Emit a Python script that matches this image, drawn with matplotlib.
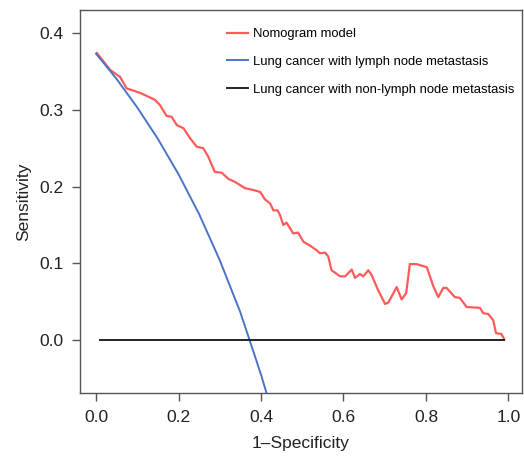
import matplotlib
matplotlib.use('Agg')
import matplotlib.pyplot as plt

# Curva del nomograma
x_nomograma = [0.002, 0.034, 0.058, 0.074, 0.107, 0.143, 0.155, 0.171, 0.183, 0.196,
               0.212, 0.228, 0.244, 0.260, 0.272, 0.288, 0.305, 0.321, 0.337, 0.361,
               0.385, 0.398, 0.410, 0.422, 0.430, 0.440, 0.446, 0.454, 0.462, 0.478,
               0.490, 0.503, 0.519, 0.535, 0.543, 0.555, 0.563, 0.571, 0.592, 0.604,
               0.620, 0.628, 0.640, 0.648, 0.660, 0.668, 0.684, 0.701, 0.709, 0.729,
               0.741, 0.752, 0.761, 0.777, 0.802, 0.818, 0.830, 0.842, 0.850, 0.870,
               0.882, 0.899, 0.931, 0.939, 0.951, 0.963, 0.970, 0.983, 0.990]
y_nomograma = [0.374, 0.352, 0.343, 0.328, 0.322, 0.313, 0.306, 0.292, 0.291, 0.280,
               0.276, 0.263, 0.252, 0.250, 0.239, 0.219, 0.218, 0.210, 0.206, 0.198,
               0.195, 0.193, 0.183, 0.178, 0.169, 0.169, 0.163, 0.150, 0.153, 0.139,
               0.140, 0.128, 0.123, 0.117, 0.113, 0.114, 0.109, 0.091, 0.083, 0.083,
               0.092, 0.081, 0.086, 0.083, 0.091, 0.085, 0.065, 0.047, 0.049, 0.069,
               0.053, 0.061, 0.099, 0.099, 0.095, 0.070, 0.056, 0.068, 0.068, 0.056,
               0.055, 0.043, 0.042, 0.035, 0.034, 0.026, 0.009, 0.008, 0.001]

# Con metastasis linfatica
x_linfa = [0.0, 0.02, 0.05, 0.10, 0.15, 0.20, 0.25, 0.30, 0.35, 0.40, 0.42]
y_linfa = [0.373, 0.360, 0.340, 0.303, 0.262, 0.216, 0.164, 0.104, 0.036, -0.045, -0.081]

# Sin metastasis linfatica
x_no_linfa = [0.01, 0.99]
y_no_linfa = [0.0, 0.0]

etiquetas = ['Nomogram model',
             'Lung cancer with lymph node metastasis',
             'Lung cancer with non-lymph node metastasis']

plt.rcParams['font.family'] = ['Liberation Sans', 'DejaVu Sans']

fig = plt.figure(figsize=(5.24, 4.57), dpi=100)
ax = fig.add_axes([0.1527, 0.140, 0.8435, 0.838])

ax.plot(x_nomograma, y_nomograma, color='#ff5a5a', lw=1.6, label=etiquetas[0])
ax.plot(x_linfa, y_linfa, color='#4a74c9', lw=1.4, label=etiquetas[1])
ax.plot(x_no_linfa, y_no_linfa, color='#222222', lw=1.4, label=etiquetas[2])

ax.set_xlim(-0.039, 1.033)
ax.set_ylim(-0.069, 0.430)
ax.set_xticks([0.0, 0.2, 0.4, 0.6, 0.8, 1.0])
ax.set_xticklabels(['0.0', '0.2', '0.4', '0.6', '0.8', '1.0'])
ax.set_yticks([0.0, 0.1, 0.2, 0.3, 0.4])
ax.set_yticklabels(['0.0', '0.1', '0.2', '0.3', '0.4'])

for s in ax.spines.values():
    s.set_color('#555555')
    s.set_linewidth(1.0)
ax.tick_params(direction='out', length=6, width=1, color='#555555',
               labelsize=12.5, labelcolor='#222222')
ax.tick_params(axis='x', pad=6)
ax.tick_params(axis='y', pad=6)

ax.set_xlabel('1–Specificity', fontsize=12.5, color='#222222', labelpad=8)
ax.set_ylabel('Sensitivity', fontsize=12.5, color='#222222', labelpad=6)

ax.legend(loc='upper left', bbox_to_anchor=(0.333, 0.953), frameon=False,
          fontsize=9.4, borderpad=0, handlelength=1.6, handletextpad=0.38,
          labelspacing=1.2, borderaxespad=0)

fig.savefig('out.png', dpi=100)
plt.close(fig)
